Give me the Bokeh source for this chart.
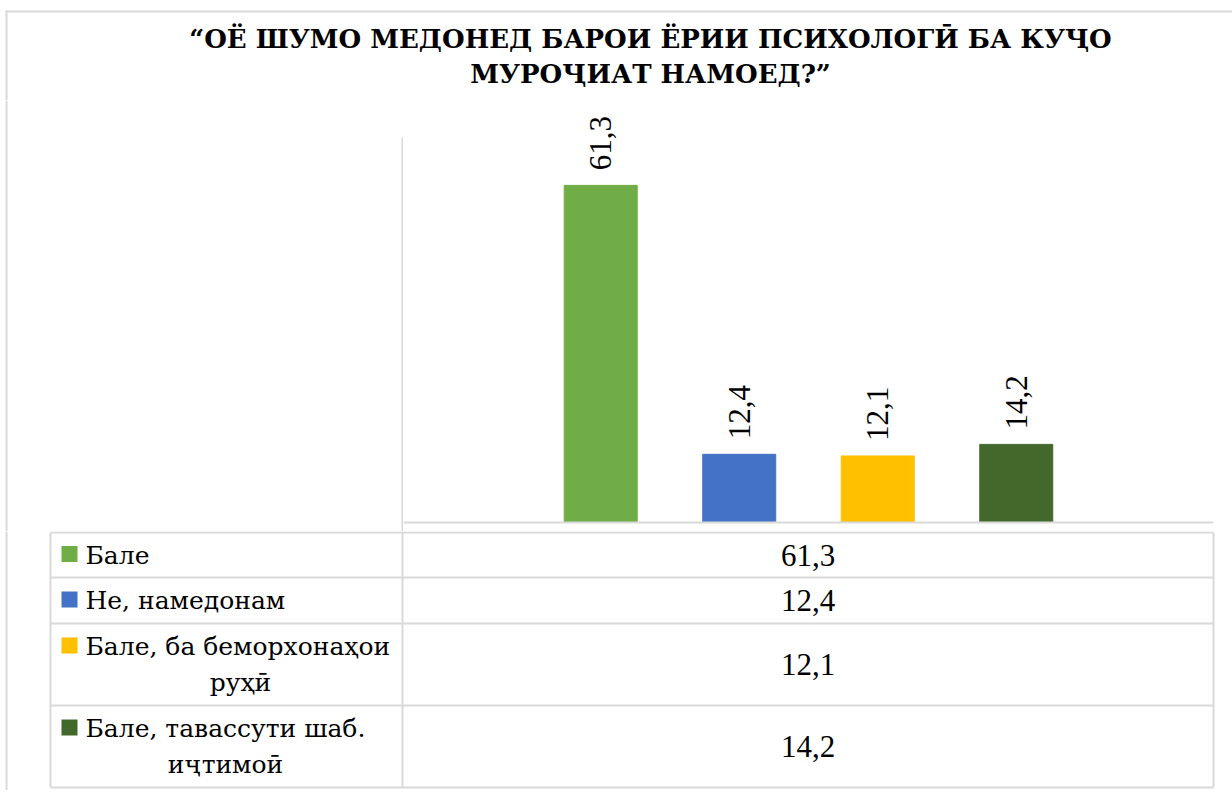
from math import pi
from bokeh.plotting import figure
from bokeh.models import Range1d, ColumnDataSource, LabelSet, Span
from bokeh.layouts import column, row
from bokeh.embed import file_html
from bokeh.resources import INLINE
from bokeh.core.properties import value

# ---------------- data ----------------
title_lines = ["“ОЁ ШУМО МЕДОНЕД БАРОИ ЁРИИ ПСИХОЛОГӢ БА КУҶО", "МУРОҶИАТ НАМОЕД?”"]
categories = ["Бале", "Не, намедонам", "Бале, ба беморхонаҳои руҳӣ",
              "Бале, тавассути шаб. иҷтимоӣ"]
values = [61.3, 12.4, 12.1, 14.2]
colors = ["#70AD47", "#4472C4", "#FFC000", "#43682B"]
value_labels = [f"{v:.1f}".replace(".", ",") for v in values]

# ---------------- style ----------------
FONT_CYR = value("DejaVu Serif")        # serif face with Cyrillic / Tajik glyphs
FONT_NUM = value("Liberation Serif")    # Times-like digits
GRID = "#D9D9D9"
W, H = 1232, 790


def canvas_fig(x0, x1, y0, y1):
    """A figure whose data units are page pixels (y grows downward)."""
    f = figure(width=x1 - x0, height=y1 - y0,
               x_range=Range1d(x0, x1), y_range=Range1d(y1, y0),
               output_backend="svg", toolbar_location=None,
               x_axis_type=None, y_axis_type=None, min_border=0,
               outline_line_color=None)
    f.background_fill_color = "white"
    f.border_fill_color = "white"
    return f


# ---------------- title ----------------
ft = canvas_fig(0, W, 0, 100)
ft.segment(x0=[5, 6], y0=[11, 10], x1=[W, 6], y1=[11, 100],
           line_color=GRID, line_width=2)
ft.text(x=[650, 650], y=[38, 73], text=title_lines, text_font=FONT_CYR,
        text_font_style="bold", text_font_size="26px", text_align="center",
        text_baseline="middle", text_color="black")

# ---------------- left blank column (with plot-area left edge) ----------------
fl = canvas_fig(0, 403, 100, 531)
fl.segment(x0=[6, 402], y0=[100, 137], x1=[6, 402], y1=[531, 531],
           line_color=GRID, line_width=2)

# ---------------- bars ----------------
xs = list(range(len(values)))
src = ColumnDataSource(dict(x=xs, value=values, color=colors, label=value_labels))
fb = figure(width=W - 403, height=431,
            x_range=Range1d(-1.424, 4.424), y_range=Range1d(-1.636, 76.73),
            output_backend="svg", toolbar_location=None,
            x_axis_type=None, y_axis_type=None,
            min_border_left=0, min_border_right=W - 1213, min_border_top=0,
            min_border_bottom=0, outline_line_color=None)
fb.background_fill_color = "white"
fb.border_fill_color = "white"
fb.vbar(x="x", top="value", bottom=0, width=0.527, color="color", source=src)
fb.add_layout(Span(location=0, dimension="width", line_color=GRID, line_width=2))
fb.add_layout(LabelSet(x="x", y="value", text="label", source=src, angle=pi / 2,
                       text_align="left", text_baseline="middle", y_offset=15,
                       text_font=FONT_NUM, text_font_size="31px",
                       text_color="black"))

# ---------------- data table ----------------
ftb = canvas_fig(0, W, 531, H)
row_edges = [532, 577, 623, 705, 787]
tab_left, tab_mid, tab_right = 50, 402, 1213
line2_center = [None, None, 240, 225]
LINE_GAP = 36

ftb.segment(x0=[6], y0=[531], x1=[6], y1=[H], line_color=GRID, line_width=2)
ftb.segment(x0=[tab_left] * len(row_edges), y0=row_edges,
            x1=[tab_right] * len(row_edges), y1=row_edges,
            line_color=GRID, line_width=2)
ftb.segment(x0=[tab_left, tab_mid, tab_right], y0=[532, 531, 532],
            x1=[tab_left, tab_mid, tab_right], y1=[787, 787, 787],
            line_color=GRID, line_width=2)

sq_y, l1_x, l1_y, l1_t, l2_x, l2_y, l2_t, v_y = [], [], [], [], [], [], [], []
for i, name in enumerate(categories):
    top, bot = row_edges[i], row_edges[i + 1]
    c = (top + bot) / 2
    if line2_center[i] is not None:
        first, second = name.rsplit(" ", 1)
        m1 = c - LINE_GAP / 2
        l2_x.append(line2_center[i]); l2_y.append(m1 + LINE_GAP); l2_t.append(second)
    else:
        first = name
        m1 = c
    l1_x.append(85); l1_y.append(m1); l1_t.append(first)
    sq_y.append(m1 - 1)
    v_y.append(c)

ftb.rect(x=[69] * len(colors), y=sq_y, width=16, height=16,
         fill_color=colors, line_color=None)
ftb.text(x=l1_x, y=l1_y, text=l1_t, text_font=FONT_CYR, text_font_size="25px",
         text_align="left", text_baseline="middle", text_color="black")
ftb.text(x=l2_x, y=l2_y, text=l2_t, text_font=FONT_CYR, text_font_size="25px",
         text_align="center", text_baseline="middle", text_color="black")
ftb.text(x=[(tab_mid + tab_right) / 2] * len(values), y=v_y, text=value_labels,
         text_font=FONT_NUM, text_font_size="31px", text_align="center",
         text_baseline="middle", text_color="black")

layout = column(ft, row(fl, fb), ftb)
open("out.html", "w").write(file_html(layout, INLINE))
